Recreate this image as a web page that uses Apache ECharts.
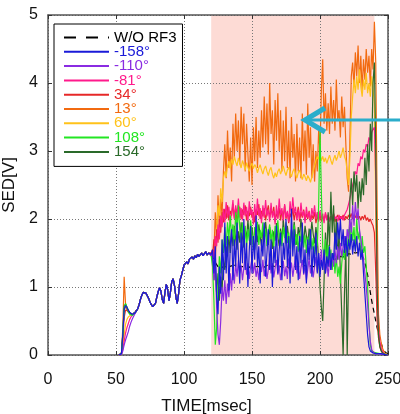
<!DOCTYPE html>
<html><head><meta charset="utf-8">
<script src="https://cdn.jsdelivr.net/npm/echarts@6/dist/echarts.min.js"></script>
<style>html,body{margin:0;padding:0;background:#fff}#c{width:400px;height:414px}</style>
</head><body><div id="c"></div><script>
// time grid (ms): 52..250 step 1
var tStart = 52, tEnd = 250;
var pinkRange = [120, 240];
var xTicks = [0, 50, 100, 150, 200, 250];
var yTicks = [0, 1, 2, 3, 4, 5];

// common rise, t = 66..119
var common = [0.68,0.74,0.82,0.88,0.92,0.93,0.91,0.87,0.83,0.78,0.74,0.71,0.70,0.76,0.85,0.93,0.99,0.94,0.82,0.76,
0.92,1.04,0.96,0.80,0.92,1.08,1.12,1.02,0.86,0.76,0.90,1.10,1.16,1.24,1.32,1.30,1.37,1.34,1.41,1.39,
1.44,1.41,1.46,1.43,1.48,1.45,1.47,1.50,1.46,1.49,1.52,1.47,1.50,1.48];

// heads, t = 52..65
var headBlack  = [0,0,0.02,0.28,0.66,0.72,0.69,0.65,0.62,0.60,0.60,0.61,0.63,0.66];
var headBlue   = [0,0,0.02,0.30,0.68,0.73,0.70,0.66,0.63,0.61,0.60,0.60,0.62,0.65];
var headPurple = [0,0,0.01,0.06,0.15,0.22,0.28,0.34,0.42,0.48,0.53,0.57,0.61,0.65];
var headPink   = [0,0,0.01,0.08,0.20,0.32,0.40,0.46,0.52,0.56,0.58,0.60,0.62,0.65];
var headRed    = [0,0,0.02,0.25,0.55,0.66,0.68,0.65,0.62,0.60,0.59,0.60,0.62,0.65];
var headOrange = [0,0,0.03,0.40,1.15,0.75,0.66,0.63,0.61,0.60,0.59,0.60,0.62,0.65];
var headYellow = [0,0,0.01,0.12,0.30,0.45,0.52,0.56,0.58,0.59,0.59,0.60,0.62,0.65];
var headGreen  = [0,0,0.02,0.30,0.70,0.76,0.70,0.64,0.60,0.58,0.58,0.59,0.62,0.65];
var headDkGreen= [0,0,0.02,0.32,0.72,0.75,0.71,0.66,0.62,0.60,0.59,0.60,0.62,0.65];

// tails, t = 120..250
var tailOrange = [1.50,1.55,1.48,2.10,1.70,2.35,1.90,2.30,2.05,2.70,
3.10,2.60,3.30,2.75,3.05,2.55,3.40,2.90,3.55,3.00,
3.45,2.80,3.65,3.10,3.55,2.70,3.40,2.95,2.55,3.20,
2.50,3.35,2.85,3.50,2.75,3.30,2.90,3.60,3.05,3.80,
3.10,3.70,2.95,4.00,3.25,3.60,2.80,3.75,3.15,3.85,
3.00,3.60,2.70,3.45,2.85,3.65,2.75,3.30,2.60,3.50,
2.90,3.25,2.55,3.40,2.70,3.20,2.60,3.55,2.85,3.30,
2.65,3.70,2.90,3.35,2.60,3.10,2.55,3.00,2.70,3.30,
3.00,3.90,4.35,3.40,3.85,3.30,3.70,3.25,3.95,3.40,
3.75,3.30,4.05,3.45,3.60,3.20,3.80,3.35,3.65,3.10,
2.60,2.40,3.20,4.10,4.30,3.95,4.45,4.10,4.55,4.00,
4.40,3.90,4.35,4.05,4.50,4.15,4.40,3.95,4.50,4.20,
4.90,4.30,2.20,0.60,0.30,0.18,0.10,0.05,0.02,0.01,
0.00];
var tailYellow = [1.48,1.52,1.60,1.55,1.85,2.20,2.05,2.45,2.25,2.60,
2.70,2.62,2.78,2.85,2.74,2.88,2.80,2.92,2.84,2.78,
2.90,2.82,2.75,2.86,2.80,2.72,2.83,2.76,2.70,2.78,
2.82,2.74,2.80,2.76,2.68,2.75,2.80,2.72,2.66,2.74,
2.78,2.70,2.64,2.72,2.76,2.66,2.60,2.68,2.62,2.70,
2.74,2.66,2.72,2.78,2.70,2.64,2.72,2.76,2.68,2.62,
2.70,2.74,2.66,2.60,2.68,2.72,2.64,2.58,2.66,2.62,
2.56,2.64,2.60,2.54,2.62,2.70,2.78,2.86,2.92,2.88,
2.95,2.86,2.92,2.84,2.90,2.82,2.88,2.94,2.86,2.80,
2.88,2.94,2.86,2.92,3.00,2.90,2.96,3.05,2.92,2.86,
2.70,2.50,2.90,3.50,3.80,4.05,3.85,4.10,3.90,4.20,
3.95,3.80,4.05,3.90,4.15,3.85,4.00,3.80,4.10,3.90,
3.70,2.00,0.70,0.35,0.18,0.10,0.05,0.03,0.02,0.01,
0.00];
var tailRed = [1.50,1.46,1.70,1.40,1.85,1.65,2.00,1.80,2.10,1.95,
2.15,2.00,2.20,1.98,2.12,2.05,2.22,2.02,2.15,1.96,
2.10,2.18,2.00,2.14,2.06,2.20,1.98,2.12,2.04,2.18,
2.02,2.10,1.95,2.14,2.06,2.22,2.00,2.12,2.04,2.16,
1.98,2.10,2.20,2.02,2.14,2.06,2.18,1.96,2.08,2.02,
2.16,1.98,2.12,2.04,2.20,2.00,2.10,1.94,2.08,2.02,
2.16,1.98,2.10,2.04,2.18,1.96,2.10,2.02,2.14,1.98,
2.08,2.00,2.12,1.96,2.06,2.00,2.10,1.94,2.04,1.98,
2.06,1.96,2.04,1.98,2.08,2.00,2.06,1.98,2.04,2.00,
2.08,1.96,2.02,2.06,1.98,2.04,2.00,2.06,1.98,2.04,
2.00,2.06,2.02,2.08,2.00,2.06,2.02,2.08,2.00,2.04,
1.98,2.04,2.00,2.06,1.98,2.02,1.96,2.00,1.94,1.90,
1.80,1.20,0.50,0.25,0.12,0.06,0.03,0.02,0.01,0.00,
0.00];
var tailPink = [1.49,1.55,1.42,1.75,1.60,1.92,1.70,2.05,1.88,2.15,
1.95,2.25,2.02,2.18,1.94,2.10,2.28,2.00,2.20,2.06,
2.30,2.02,2.16,1.98,2.24,2.04,2.18,1.96,2.26,2.06,
2.14,1.92,2.22,2.00,2.30,2.04,2.16,1.94,2.20,2.02,
2.28,2.04,2.14,1.96,2.24,2.02,2.12,1.92,2.20,2.00,
2.30,2.06,2.16,1.94,2.22,2.02,2.12,1.96,2.26,2.04,
2.32,2.08,2.18,1.98,2.14,2.00,2.24,2.04,2.12,1.94,
2.18,2.02,2.10,1.96,2.16,2.04,2.20,2.00,2.10,1.96,
2.12,2.00,2.08,1.94,2.10,1.98,2.06,1.96,2.04,1.98,
2.08,2.00,2.04,1.96,2.06,2.00,2.04,1.98,2.06,2.10,
2.14,2.22,2.30,2.40,2.50,2.58,2.70,2.66,2.82,2.78,
2.92,2.88,3.02,2.98,3.10,3.06,3.20,3.16,3.28,3.30,
3.35,2.60,0.90,0.40,0.20,0.10,0.05,0.03,0.01,0.00,
0.00];
var tailGreen = [1.46,1.30,0.80,0.15,0.40,1.00,1.45,1.20,1.70,1.50,
1.88,1.60,1.95,1.70,2.05,1.75,1.92,1.62,2.10,1.80,
2.20,1.85,1.65,1.95,1.72,1.90,1.58,1.85,1.68,1.98,
1.75,1.55,1.88,1.70,1.96,1.62,1.84,1.72,1.95,1.66,
1.86,1.60,1.80,1.92,1.68,1.84,1.58,1.90,1.74,1.98,
1.70,1.82,1.60,1.88,1.72,1.95,1.65,1.80,1.56,1.84,
1.70,1.92,1.62,1.78,1.52,1.80,1.66,1.88,1.58,1.76,
1.50,1.74,1.62,1.84,1.55,1.72,1.48,1.70,1.60,2.20,
3.30,2.40,1.60,1.40,1.70,1.35,1.62,1.30,1.55,1.25,
1.50,1.20,1.45,1.15,1.30,1.05,1.35,1.55,1.40,1.70,
1.50,1.85,1.60,1.95,1.68,1.88,1.55,2.00,1.70,1.82,
1.45,1.75,1.50,1.60,1.30,1.00,0.50,0.15,0.06,0.04,
0.04,0.03,0.03,0.02,0.02,0.02,0.01,0.01,0.01,0.00,
0.00];
var tailDkGreen = [1.47,1.40,1.10,1.30,0.90,1.20,0.80,1.15,0.95,1.40,
1.25,1.60,1.45,1.75,1.50,1.85,1.60,1.90,1.70,1.55,
1.82,1.65,1.95,1.72,1.58,1.86,1.70,1.98,1.75,1.62,
1.88,1.68,1.55,1.80,1.66,1.92,1.74,1.60,1.85,1.70,
1.96,1.76,1.62,1.88,1.72,1.56,1.82,1.68,1.94,1.74,
1.60,1.86,1.70,1.98,1.78,1.64,1.90,1.72,1.58,1.84,
1.70,1.96,1.76,1.62,1.88,1.74,2.00,1.80,1.66,1.90,
1.76,1.62,1.86,1.72,1.96,1.78,1.64,1.88,1.70,1.40,
1.00,0.70,0.50,1.10,1.80,1.40,2.10,1.60,2.40,1.80,
2.20,1.55,2.00,1.40,1.80,1.20,0.60,0.00,0.90,1.60,
0.00,1.20,2.30,2.60,2.20,2.70,2.40,2.65,2.15,2.55,
2.25,2.60,2.35,2.90,2.50,3.10,2.70,3.40,3.00,4.00,
4.30,3.00,1.00,0.30,0.12,0.06,0.03,0.02,0.01,0.00,
0.00];
var tailBlue = [1.48,1.55,1.20,1.60,0.85,0.60,1.30,0.90,1.70,1.10,
1.95,1.20,1.75,0.95,1.60,1.85,1.10,1.70,1.30,1.95,
1.45,1.05,1.80,1.35,2.00,1.25,1.65,1.00,1.55,1.90,
1.20,1.75,1.40,2.05,1.30,1.60,1.05,1.70,1.45,1.95,
1.15,1.50,1.85,1.25,1.70,1.00,1.60,1.35,1.90,1.20,
1.55,1.80,1.10,1.65,1.40,2.00,1.30,1.75,1.05,2.15,
1.45,1.85,1.25,1.60,1.10,1.75,1.35,1.95,1.20,1.55,
1.05,1.70,1.40,1.85,1.15,1.60,1.30,1.80,1.20,1.50,
1.15,1.40,1.25,1.55,1.20,1.45,1.30,1.60,1.25,1.50,
1.40,1.80,1.55,1.95,1.70,2.00,1.60,1.85,1.50,1.75,
1.45,1.70,1.55,1.78,1.48,1.70,1.52,1.75,1.45,1.65,
1.40,1.55,1.20,0.90,0.60,0.30,0.12,0.06,0.04,0.03,
0.03,0.02,0.02,0.02,0.02,0.02,0.01,0.01,0.01,0.00,
0.00];
var tailPurple = [1.46,1.50,1.10,1.45,0.70,0.30,0.15,0.50,1.00,0.80,
1.10,0.75,1.05,0.85,1.20,0.95,1.30,1.05,1.35,1.15,
1.40,1.20,1.32,1.10,1.28,1.45,1.18,1.35,1.12,1.30,
1.42,1.20,1.36,1.15,1.28,1.10,1.34,1.22,1.40,1.16,
1.30,1.12,1.26,1.44,1.20,1.35,1.14,1.28,1.40,1.18,
1.32,1.10,1.25,1.38,1.16,1.30,1.12,1.42,1.24,1.36,
1.15,1.30,1.45,1.20,1.34,1.12,1.28,1.40,1.18,1.32,
1.10,1.26,1.42,1.20,1.35,1.14,1.30,1.44,1.22,1.50,
1.30,1.55,1.25,1.45,1.20,1.38,1.15,1.40,1.25,1.50,
1.30,1.55,1.35,1.60,1.40,1.65,1.45,1.60,1.75,1.55,
1.85,1.70,2.00,1.80,2.20,1.90,2.25,2.00,2.15,1.85,
1.70,1.55,1.40,1.20,1.00,0.75,0.45,0.20,0.08,0.04,
0.03,0.02,0.02,0.02,0.02,0.01,0.01,0.01,0.00,0.00,
0.00];
var tailBlack = [1.48,1.45,1.40,1.36,1.33,1.30,1.28,1.27,1.28,1.30,
1.31,1.30,1.32,1.30,1.29,1.31,1.30,1.32,1.30,1.29,
1.31,1.30,1.28,1.30,1.32,1.30,1.29,1.31,1.30,1.28,
1.30,1.31,1.29,1.30,1.32,1.30,1.28,1.30,1.31,1.29,
1.30,1.32,1.30,1.28,1.30,1.31,1.29,1.30,1.32,1.30,
1.28,1.30,1.31,1.29,1.30,1.32,1.30,1.28,1.30,1.31,
1.29,1.30,1.32,1.30,1.28,1.30,1.31,1.29,1.30,1.32,
1.30,1.28,1.30,1.31,1.29,1.30,1.32,1.30,1.31,1.33,
1.35,1.36,1.34,1.37,1.38,1.36,1.39,1.40,1.38,1.41,
1.42,1.40,1.43,1.44,1.42,1.45,1.46,1.44,1.47,1.48,
1.46,1.49,1.50,1.48,1.51,1.52,1.50,1.49,1.51,1.50,
1.48,1.46,1.42,1.36,1.28,1.18,1.05,0.92,0.80,0.70,
0.60,0.50,0.40,0.32,0.24,0.17,0.11,0.07,0.04,0.02,
0.01];

var names  = ['W/O RF3', '-158°', '-110°', '-81°', '34°', '13°', '60°', '108°', '154°'];
var colors = ['#000000', '#1a1ad8', '#8a2be2', '#ff1a8c', '#e62828', '#f26a10', '#ffc21a', '#22e622', '#2a6a2a'];
var heads  = [headBlack, headBlue, headPurple, headPink, headRed, headOrange, headYellow, headGreen, headDkGreen];
var tails  = [tailBlack, tailBlue, tailPurple, tailPink, tailRed, tailOrange, tailYellow, tailGreen, tailDkGreen];
// drawing order (bottom -> top)
var drawOrder = [0, 5, 6, 4, 3, 8, 7, 2, 1];

var FONT = '"Liberation Sans", Arial, sans-serif';
var time = [];
for (var t = tStart; t <= tEnd; t++) time.push(t);

var series = [{
  type: 'line', data: [], silent: true, z: 1,
  markArea: { silent: true, z: -1, itemStyle: { color: '#fddbd5' },
    data: [[{ xAxis: pinkRange[0] }, { xAxis: pinkRange[1] }]] }
}];
drawOrder.forEach(function (k, idx) {
  var vals = heads[k].concat(common, tails[k]);
  var isBlack = k === 0;
  series.push({
    name: names[k], type: 'line', symbol: 'none', animation: false,
    z: 2 + idx * 0.01,
    data: time.map(function (tt, i) { return [tt, vals[i]]; }),
    lineStyle: { color: colors[k], width: 1.2, type: isBlack ? [5, 4] : 'solid' },
    itemStyle: { color: colors[k] }
  });
});

var axisCommonX = {
  type: 'value', min: xTicks[0], max: xTicks[xTicks.length - 1], interval: 50
};
var chart = echarts.init(document.getElementById('c'), null, { renderer: 'canvas' });
chart.setOption({
  animation: false,
  backgroundColor: '#fff',
  grid: { left: 48, right: 12, top: 15, bottom: 59, containLabel: false, outerBoundsMode: 'none' },
  xAxis: [Object.assign({}, axisCommonX, {
    position: 'bottom',
    axisLine: { onZero: false, lineStyle: { color: '#555', width: 1.5 } },
    axisTick: { inside: true, length: 4, lineStyle: { color: '#333' } },
    axisLabel: { fontSize: 16, color: '#111', margin: 17, fontFamily: FONT },
    splitLine: { show: true, lineStyle: { type: [1, 2], color: '#777', width: 1 } },
    name: 'TIME[msec]', nameLocation: 'middle', nameGap: 43,
    nameTextStyle: { fontSize: 17, color: '#111', fontFamily: FONT, padding: [0, 23, 0, 0] }
  }), Object.assign({}, axisCommonX, {
    position: 'top',
    axisLine: { onZero: false, lineStyle: { color: '#555', width: 1.5 } },
    axisTick: { inside: true, length: 4, lineStyle: { color: '#333' } },
    axisLabel: { show: false }, splitLine: { show: false }
  })],
  yAxis: [{
    type: 'value', min: yTicks[0], max: yTicks[yTicks.length - 1], interval: 1, position: 'left',
    axisLine: { show: true, onZero: false, lineStyle: { color: '#555', width: 1.5 } },
    axisTick: { show: true, inside: true, length: 4, lineStyle: { color: '#333' } },
    axisLabel: { fontSize: 16, color: '#111', margin: 10, fontFamily: FONT },
    splitLine: { show: true, lineStyle: { type: [1, 2], color: '#777', width: 1 } },
    name: 'SED[V]', nameLocation: 'middle', nameGap: 21,
    nameTextStyle: { fontSize: 17, color: '#111', fontFamily: FONT }
  }, {
    type: 'value', min: yTicks[0], max: yTicks[yTicks.length - 1], interval: 1, position: 'right',
    axisLine: { show: true, onZero: false, lineStyle: { color: '#555', width: 1.5 } },
    axisTick: { show: true, inside: true, length: 4, lineStyle: { color: '#333' } },
    axisLabel: { show: false }, splitLine: { show: false }
  }],
  legend: {
    orient: 'vertical', left: 54, top: 24, padding: [6, 6, 7, 9],
    backgroundColor: '#fff', borderColor: '#000', borderWidth: 1,
    itemWidth: 45, itemHeight: 14, itemGap: -0.7, selectedMode: false,
    itemStyle: { opacity: 0 },
    textStyle: { fontSize: 15, fontFamily: FONT, lineHeight: 14 },
    data: names.map(function (n, i) {
      var d = { name: n, textStyle: { color: colors[i] } };
      if (i === 0) d.lineStyle = { type: [12, 10], width: 2 };
      return d;
    })
  },
  graphic: [
    { type: 'polyline', z: 100, shape: { points: [[304, 120], [400, 120]] },
      style: { stroke: '#2badcb', lineWidth: 3, fill: null } },
    { type: 'polyline', z: 100, shape: { points: [[325, 108], [305, 120], [325, 132]] },
      style: { stroke: '#2badcb', lineWidth: 5, fill: null } }
  ],
  series: series
});
</script></body></html>
